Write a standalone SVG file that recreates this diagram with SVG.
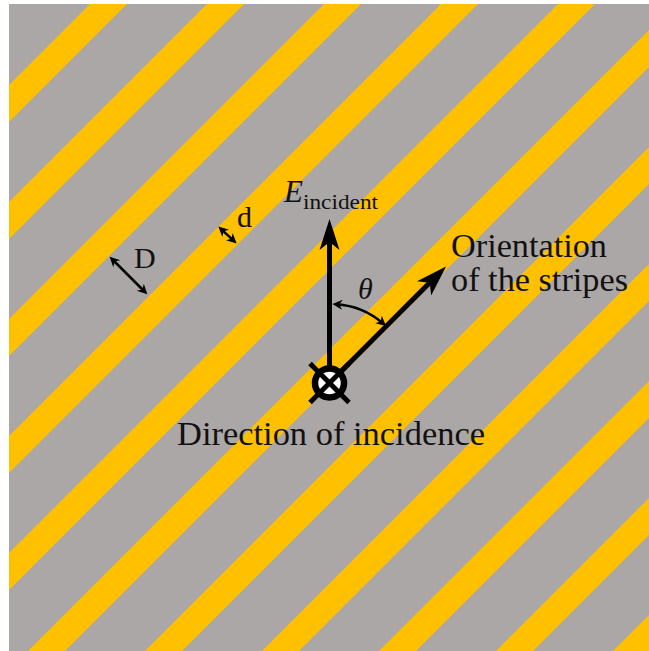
<svg xmlns="http://www.w3.org/2000/svg" width="649" height="651" viewBox="0 0 649 651">
  <style>
    .stripe { fill: #FFC000; }
    .lbl { font-family: "Liberation Serif", "DejaVu Serif", serif; fill: #111111; }
    .big { stroke: #000; stroke-width: 5; fill: none; }
    .thin { stroke: #000; stroke-width: 2.5; fill: none; }
  </style>
  <defs>
    <clipPath id="panel">
      <rect x="9" y="4" width="640" height="647"/>
    </clipPath>
    <marker id="bigHead" markerUnits="userSpaceOnUse" viewBox="-32 -11 34 22" refX="-20" refY="0" markerWidth="34" markerHeight="22" orient="auto">
      <path d="M0,0 L-31,-10 L-23,0 L-31,10 Z" fill="#000"/>
    </marker>
    <marker id="smallHead" markerUnits="userSpaceOnUse" viewBox="-12 -6 14 12" refX="-4" refY="0" markerWidth="14" markerHeight="12" orient="auto-start-reverse">
      <path d="M0,0 L-10,-5 L-7,0 L-10,5 Z" fill="#000"/>
    </marker>
  </defs>

  <rect x="0" y="0" width="649" height="651" fill="#ffffff"/>

  <g id="panel-bg" clip-path="url(#panel)">
    <rect x="9" y="4" width="640" height="647" fill="#ABA7A7"/>
    <g id="stripes">
      <polygon class="stripe" points="-100,77 800,-823 800,-786 -100,114"/>
      <polygon class="stripe" points="-100,194 800,-706 800,-669 -100,231"/>
      <polygon class="stripe" points="-100,311 800,-589 800,-552 -100,348"/>
      <polygon class="stripe" points="-100,428 800,-472 800,-435 -100,465"/>
      <polygon class="stripe" points="-100,545 800,-355 800,-318 -100,582"/>
      <polygon class="stripe" points="-100,662 800,-238 800,-201 -100,699"/>
      <polygon class="stripe" points="-100,779 800,-121 800,-84 -100,816"/>
      <polygon class="stripe" points="-100,896 800,-4 800,33 -100,933"/>
      <polygon class="stripe" points="-100,1013 800,113 800,150 -100,1050"/>
      <polygon class="stripe" points="-100,1130 800,230 800,267 -100,1167"/>
      <polygon class="stripe" points="-100,1247 800,347 800,384 -100,1284"/>
      <polygon class="stripe" points="-100,1364 800,464 800,501 -100,1401"/>
    </g>
  </g>

  <g id="connectors">
    <line id="arrow-E" class="big" x1="329.5" y1="383" x2="329.5" y2="239" marker-end="url(#bigHead)"/>
    <line id="arrow-orient" class="big" x1="329.5" y1="383" x2="431.9" y2="280.6" marker-end="url(#bigHead)"/>
    <line id="dim-D" class="thin" x1="112.5" y1="259.5" x2="144.5" y2="291.5" marker-start="url(#smallHead)" marker-end="url(#smallHead)"/>
    <line id="dim-d" class="thin" x1="221.3" y1="229.3" x2="233.7" y2="240.7" marker-start="url(#smallHead)" marker-end="url(#smallHead)"/>
    <path id="arc-theta" class="thin" d="M 336.4 304.3 A 79 79 0 0 1 383 323.5" marker-start="url(#smallHead)" marker-end="url(#smallHead)"/>
  </g>

  <g id="incidence-symbol">
    <line x1="310" y1="363.5" x2="349" y2="402.5" stroke="#000" stroke-width="5"/>
    <line x1="349" y1="363.5" x2="310" y2="402.5" stroke="#000" stroke-width="5"/>
    <circle cx="329.5" cy="383" r="14.5" fill="#ffffff" stroke="#000" stroke-width="6.5"/>
    <line x1="320" y1="373.5" x2="339" y2="392.5" stroke="#000" stroke-width="5"/>
    <line x1="339" y1="373.5" x2="320" y2="392.5" stroke="#000" stroke-width="5"/>
  </g>

  <g id="label-E">
    <text class="lbl" x="284" y="202" font-size="31" font-style="italic">E</text>
    <text class="lbl" x="303" y="209" font-size="22" textLength="75" lengthAdjust="spacingAndGlyphs">incident</text>
  </g>
  <g id="label-orientation">
    <text class="lbl" x="451" y="257" font-size="34" textLength="156" lengthAdjust="spacingAndGlyphs">Orientation</text>
    <text class="lbl" x="451" y="291" font-size="34" textLength="177" lengthAdjust="spacingAndGlyphs">of the stripes</text>
  </g>
  <g id="label-direction">
    <text class="lbl" x="177" y="445" font-size="34" textLength="308" lengthAdjust="spacingAndGlyphs">Direction of incidence</text>
  </g>
  <g id="label-D">
    <text class="lbl" x="134" y="268" font-size="30">D</text>
  </g>
  <g id="label-d">
    <text class="lbl" x="237" y="227" font-size="30">d</text>
  </g>
  <g id="label-theta">
    <text class="lbl" x="358" y="299" font-size="30" font-style="italic">θ</text>
  </g>
</svg>
